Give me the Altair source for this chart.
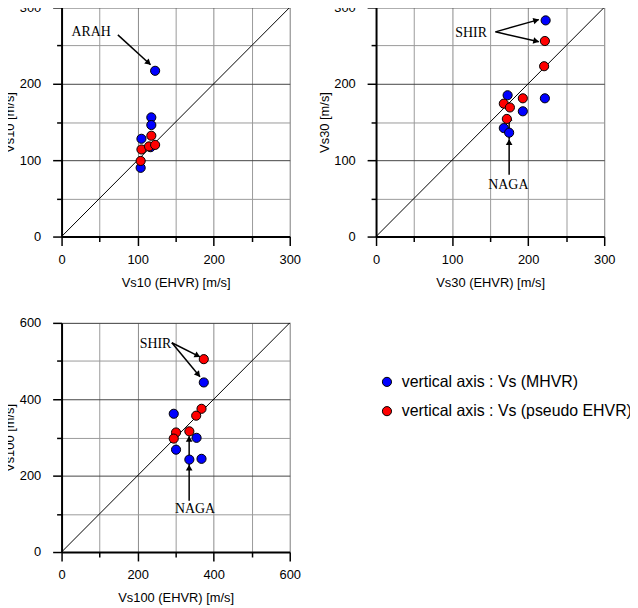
import math
import altair as alt
import pandas as pd

SER_M = "vertical axis : Vs (MHVR)"
SER_P = "vertical axis : Vs (pseudo EHVR)"
series_names = [SER_M, SER_P]
series_colors = ["#0000ff", "#ff0000"]

# ---- Vs10 panel ----
vs10_x_m = [123, 118, 118, 105, 104, 117]
vs10_y_m = [217, 156, 146, 128, 90, 117]
vs10_x_p = [118, 105, 115, 123, 104]
vs10_y_p = [132, 114, 118, 120, 99]
vs10_labels = ["ARAH"]
vs10_label_x = [39]
vs10_label_y = [268]
vs10_arrow_x1 = [74]
vs10_arrow_y1 = [264]
vs10_arrow_x2 = [117]
vs10_arrow_y2 = [225]

# ---- Vs30 panel ----
vs30_x_m = [223, 222, 173, 193, 168, 175]
vs30_y_m = [283, 181, 185, 164, 142, 136]
vs30_x_p = [222, 221, 193, 168, 176, 172]
vs30_y_p = [256, 223, 181, 174, 169, 154]
vs30_labels = ["SHIR", "NAGA"]
vs30_label_x = [125, 174]
vs30_label_y = [267, 67]
vs30_arrow_x1 = [157, 157, 175, 175]
vs30_arrow_y1 = [268, 268, 81, 127]
vs30_arrow_x2 = [214, 214, 175, 175]
vs30_arrow_y2 = [284, 255, 127, 159]

# ---- Vs100 panel ----
vs100_x_m = [374, 295, 355, 301, 336, 368]
vs100_y_m = [444, 362, 299, 268, 242, 244]
vs100_x_p = [374, 368, 354, 301, 295, 336]
vs100_y_p = [505, 375, 357, 313, 297, 316]
vs100_labels = ["SHIR", "NAGA"]
vs100_label_x = [247, 351]
vs100_label_y = [545, 112]
vs100_arrow_x1 = [290, 290, 335.5, 335.5]
vs100_arrow_y1 = [548, 548, 134, 228]
vs100_arrow_x2 = [364, 364, 335.5, 335.5]
vs100_arrow_y2 = [511, 459, 228, 303]

FONT = "Liberation Sans"
SERIF = "Liberation Serif"
W, H = 230, 231


def make_axis(title, vals, major, kind):
    test = f"datum.value % {major} === 0"
    major_grid = "#444444" if kind == "y" else "#8a8a8a"
    common = dict(
        title=title,
        values=vals,
        labelExpr=f"{test} ? datum.label : ''",
        grid=True,
        gridColor={"condition": {"test": test, "value": major_grid}, "value": "#9a9a9a"},
        gridWidth=1,
        tickSize={"condition": {"test": test, "value": 9}, "value": 5},
        tickColor="black",
        tickWidth=1.5,
        domainColor="black",
        domainWidth=2,
        labelFont=FONT,
        labelFontSize=13,
        labelColor="black",
        labelFlush=False,
        labelOverlap=False,
        titleFont=FONT,
        titleFontSize=13,
        titleFontWeight="normal",
        titleColor="black",
        titleAlign="center",
        titleBaseline="middle",
    )
    if kind == "y":
        return alt.Axis(labelPadding=12, titleAngle=270, titleX=-52, titleY=H / 2, **common)
    return alt.Axis(labelPadding=8, titleAngle=0, titleX=W / 2, titleY=46, **common)


def panel(xm, ym, xp, yp, vmax, minor, major, xtitle, ytitle,
          labels, lx, ly, ax1, ay1, ax2, ay2):
    vals = list(range(0, vmax + 1, minor))
    sc = alt.Scale(domain=[0, vmax], nice=False, zero=True)
    X = alt.X("x:Q", scale=sc, axis=make_axis(xtitle, vals, major, "x"))
    Y = alt.Y("y:Q", scale=sc, axis=make_axis(ytitle, vals, major, "y"))

    diag = pd.DataFrame({"x": [0, vmax], "y": [0, vmax]})
    pts = pd.DataFrame({
        "x": xm + xp,
        "y": ym + yp,
        "s": [SER_M] * len(xm) + [SER_P] * len(xp),
        "o": list(range(len(xm) + len(xp))),
    })
    arr = pd.DataFrame({"x": ax1, "y": ay1, "x2": ax2, "y2": ay2})
    back = vmax / 300 * 3.5
    hx, hy, ha = [], [], []
    for x1, y1, x2, y2 in zip(ax1, ay1, ax2, ay2):
        dx, dy = x2 - x1, y2 - y1
        L = math.hypot(dx, dy)
        hx.append(x2 - dx / L * back)
        hy.append(y2 - dy / L * back)
        ha.append(math.degrees(math.atan2(dx, dy)) % 360)
    heads = pd.DataFrame({"x": hx, "y": hy, "a": ha})
    txt = pd.DataFrame({"x": lx, "y": ly, "t": labels})

    l_diag = alt.Chart(diag).mark_line(color="black", strokeWidth=1).encode(x=X, y=Y)
    l_pts = alt.Chart(pts).mark_point(
        filled=True, size=85, stroke="black", strokeWidth=1, opacity=1
    ).encode(
        x=X, y=Y,
        color=alt.Color(
            "s:N",
            scale=alt.Scale(domain=series_names, range=series_colors),
            legend=alt.Legend(
                title=None, orient="none", legendX=320, legendY=369.5, padding=0,
                labelFont=FONT, labelFontSize=16, labelColor="black", labelLimit=400,
                symbolType="circle", symbolSize=85, symbolStrokeColor="black",
                symbolStrokeWidth=1, symbolOpacity=1, rowPadding=13.5, labelOffset=7,
            ),
        ),
        order="o:Q",
    )
    l_arr = alt.Chart(arr).mark_rule(color="black", strokeWidth=1.5).encode(
        x=X, y=Y, x2="x2:Q", y2="y2:Q"
    )
    l_heads = alt.Chart(heads).mark_point(
        shape="triangle-up", filled=True, color="black", size=45, opacity=1
    ).encode(x=X, y=Y, angle=alt.Angle("a:Q", scale=None))
    l_txt = alt.Chart(txt).mark_text(
        font=SERIF, fontSize=14, color="black", align="center", baseline="middle"
    ).encode(x=X, y=Y, text="t:N")
    return alt.layer(l_diag, l_arr, l_heads, l_pts, l_txt).properties(width=W, height=H)


p1 = panel(vs10_x_m, vs10_y_m, vs10_x_p, vs10_y_p, 300, 50, 100,
           "Vs10 (EHVR) [m/s]", "Vs10 [m/s]",
           vs10_labels, vs10_label_x, vs10_label_y,
           vs10_arrow_x1, vs10_arrow_y1, vs10_arrow_x2, vs10_arrow_y2)
p2 = panel(vs30_x_m, vs30_y_m, vs30_x_p, vs30_y_p, 300, 50, 100,
           "Vs30 (EHVR) [m/s]", "Vs30 [m/s]",
           vs30_labels, vs30_label_x, vs30_label_y,
           vs30_arrow_x1, vs30_arrow_y1, vs30_arrow_x2, vs30_arrow_y2)
p3 = panel(vs100_x_m, vs100_y_m, vs100_x_p, vs100_y_p, 600, 100, 200,
           "Vs100 (EHVR) [m/s]", "Vs100 [m/s]",
           vs100_labels, vs100_label_x, vs100_label_y,
           vs100_arrow_x1, vs100_arrow_y1, vs100_arrow_x2, vs100_arrow_y2)

chart = alt.concat(p1, p2, p3, columns=2, spacing=87, bounds="flush").properties(
    padding={"left": -5, "top": -10, "right": -3, "bottom": -3}
).configure_view(stroke=None).configure(background="white")

chart.save("out.html", embed_options={"renderer": "svg", "actions": False})
